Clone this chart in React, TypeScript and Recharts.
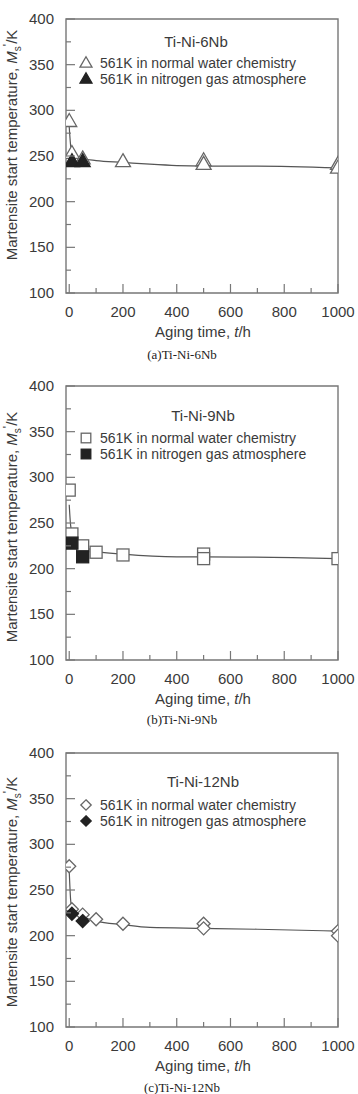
import React from "react";
import { ComposedChart, XAxis, YAxis, Line, Scatter, ReferenceArea } from "recharts";

// Ms temperature vs aging time at 561K, three Ti-Ni-Nb alloys

const X_TICKS = [0, 100, 200, 300, 400, 500, 600, 700, 800, 900, 1000];
const Y_TICKS = [100, 125, 150, 175, 200, 225, 250, 275, 300, 325, 350, 375, 400];

// Ti-Ni-6Nb
const NB6_WATER_T = [0, 10, 50, 200, 500, 500, 1000, 1000];
const NB6_WATER_MS = [288, 253, 247, 244, 245, 241, 241, 237];
const NB6_N2_T = [10, 50];
const NB6_N2_MS = [244, 244];
const NB6_FIT_T = [0, 5, 10, 20, 50, 100, 200, 300, 400, 500, 700, 1000];
const NB6_FIT_MS = [282, 262, 253, 250, 247, 245, 243, 241, 239.5, 239, 239, 237];

// Ti-Ni-9Nb
const NB9_WATER_T = [0, 10, 50, 100, 200, 500, 500, 1000];
const NB9_WATER_MS = [286, 238, 225, 218, 215, 216, 211, 211];
const NB9_N2_T = [10, 50];
const NB9_N2_MS = [228, 213];
const NB9_FIT_T = [0, 5, 10, 20, 50, 100, 200, 400, 500, 1000];
const NB9_FIT_MS = [270, 248, 240, 233, 226, 219, 216, 213, 213, 211];

// Ti-Ni-12Nb
const NB12_WATER_T = [0, 10, 50, 100, 200, 500, 500, 1000, 1000];
const NB12_WATER_MS = [276, 229, 223, 218, 213, 213, 208, 205, 200];
const NB12_N2_T = [10, 50];
const NB12_N2_MS = [224, 216];
const NB12_FIT_T = [0, 5, 10, 20, 50, 100, 200, 300, 500, 700, 1000];
const NB12_FIT_MS = [271, 240, 230, 226, 221, 216, 212, 209, 208, 207, 205];

const LEGEND_WATER = "561K in normal water chemistry";
const LEGEND_N2 = "561K in nitrogen gas atmosphere";

type MarkerKind = "triangle" | "square" | "diamond";

const pts = (t: number[], ms: number[]) => t.map((x, i) => ({ x, y: ms[i] }));

const PANELS = [
  {
    name: "Ti-Ni-6Nb", caption: "(a)Ti-Ni-6Nb", marker: "triangle" as MarkerKind,
    water: pts(NB6_WATER_T, NB6_WATER_MS), n2: pts(NB6_N2_T, NB6_N2_MS), fit: pts(NB6_FIT_T, NB6_FIT_MS),
    titleX: 196, titleY: 47, rows: [63, 79], yTitleMid: 145, captionY: 359,
  },
  {
    name: "Ti-Ni-9Nb", caption: "(b)Ti-Ni-9Nb", marker: "square" as MarkerKind,
    water: pts(NB9_WATER_T, NB9_WATER_MS), n2: pts(NB9_N2_T, NB9_N2_MS), fit: pts(NB9_FIT_T, NB9_FIT_MS),
    titleX: 203, titleY: 54, rows: [71, 87], yTitleMid: 160, captionY: 357,
  },
  {
    name: "Ti-Ni-12Nb", caption: "(c)Ti-Ni-12Nb", marker: "diamond" as MarkerKind,
    water: pts(NB12_WATER_T, NB12_WATER_MS), n2: pts(NB12_N2_T, NB12_N2_MS), fit: pts(NB12_FIT_T, NB12_FIT_MS),
    titleX: 203, titleY: 53, rows: [71, 87], yTitleMid: 158, captionY: 358,
  },
];

const W = 358;
const H = 367;
const PLOT_LEFT = 66;
const PLOT_TOP = 19;
const PLOT_BOTTOM = 293;
const FONT = "'Liberation Sans', Arial, sans-serif";
const FS = 15;
const LEGEND_FS = 14;
const TEXT = "#3a3a3a";
const AXIS = "#777";

function Marker({ kind, cx, cy, filled, size = 1 }: { kind: MarkerKind; cx: number; cy: number; filled: boolean; size?: number }) {
  const fill = filled ? "#222" : "#fff";
  const stroke = filled ? "#222" : "#666";
  if (kind === "triangle") {
    const hw = 7.5 * size, h = 13 * size;
    const p = `${cx},${cy - h * 0.6} ${cx + hw},${cy + h * 0.4} ${cx - hw},${cy + h * 0.4}`;
    return <polygon points={p} fill={fill} stroke={stroke} strokeWidth={1.3} />;
  }
  if (kind === "square") {
    const s = 6 * size;
    return <rect x={cx - s} y={cy - s} width={s * 2} height={s * 2} fill={fill} stroke={stroke} strokeWidth={1.3} />;
  }
  const d = 6.5 * size;
  const p = `${cx},${cy - d} ${cx + d},${cy} ${cx},${cy + d} ${cx - d},${cy}`;
  return <polygon points={p} fill={fill} stroke={stroke} strokeWidth={1.3} />;
}

function XTick(props: any) {
  const { x, payload } = props;
  const v = payload.value as number;
  const major = v % 200 === 0;
  return (
    <g>
      <line x1={x} x2={x} y1={PLOT_BOTTOM} y2={PLOT_BOTTOM - (major ? 9 : 5)} stroke={AXIS} strokeWidth={1.2} />
      {major && (
        <text x={x} y={PLOT_BOTTOM + 24} textAnchor="middle" fontSize={FS} fontFamily={FONT} fill={TEXT}>
          {v}
        </text>
      )}
    </g>
  );
}

function YTick(props: any) {
  const { y, payload } = props;
  const v = payload.value as number;
  const major = v % 50 === 0;
  return (
    <g>
      <line x1={PLOT_LEFT} x2={PLOT_LEFT + (major ? 9 : 5)} y1={y} y2={y} stroke={AXIS} strokeWidth={1.2} />
      {major && (
        <text x={54} y={y + 5} textAnchor="end" fontSize={FS} fontFamily={FONT} fill={TEXT}>
          {v}
        </text>
      )}
    </g>
  );
}

function Panel({ panel, top }: { panel: (typeof PANELS)[number]; top: number }) {
  const kind = panel.marker;
  return (
    <div style={{ position: "absolute", left: 0, top, width: W, height: H }}>
      <ComposedChart width={W} height={H} margin={{ top: PLOT_TOP, right: 20, bottom: 44, left: 0 }}>
        <XAxis
          type="number"
          dataKey="x"
          domain={[-12, 1000]}
          ticks={X_TICKS}
          interval={0}
          tick={<XTick />}
          tickLine={false}
          axisLine={false}
          height={30}
          allowDataOverflow
        />
        <YAxis
          type="number"
          dataKey="y"
          domain={[100, 400]}
          ticks={Y_TICKS}
          interval={0}
          tick={<YTick />}
          tickLine={false}
          axisLine={false}
          width={66}
          allowDataOverflow
        />
        <ReferenceArea x1={-12} x2={1000} y1={100} y2={400} fill="none" stroke={AXIS} strokeWidth={1.4} />
        <Line
          data={panel.fit}
          dataKey="y"
          type="monotone"
          stroke="#555"
          strokeWidth={1.2}
          dot={false}
          activeDot={false}
          isAnimationActive={false}
        />
        <Scatter
          data={panel.water}
          isAnimationActive={false}
          shape={(p: any) => <Marker kind={kind} cx={p.cx} cy={p.cy} filled={false} />}
        />
        <Scatter
          data={panel.n2}
          isAnimationActive={false}
          shape={(p: any) => <Marker kind={kind} cx={p.cx} cy={p.cy} filled />}
        />
      </ComposedChart>
      <svg width={W} height={H} style={{ position: "absolute", left: 0, top: 0, pointerEvents: "none" }}>
        <text x={panel.titleX} y={panel.titleY} textAnchor="middle" fontSize={FS} fontFamily={FONT} fill={TEXT}>
          {panel.name}
        </text>
        <Marker kind={kind} cx={86} cy={panel.rows[0]} filled={false} size={0.8} />
        <text x={100} y={panel.rows[0] + 5} fontSize={LEGEND_FS} fontFamily={FONT} fill={TEXT}>
          {LEGEND_WATER}
        </text>
        <Marker kind={kind} cx={86} cy={panel.rows[1]} filled size={0.8} />
        <text x={100} y={panel.rows[1] + 5} fontSize={LEGEND_FS} fontFamily={FONT} fill={TEXT}>
          {LEGEND_N2}
        </text>
        <text
          transform={`translate(17, ${panel.yTitleMid}) rotate(-90)`}
          textAnchor="middle"
          fontSize={FS}
          fontFamily={FONT}
          fill={TEXT}
        >
          Martensite start temperature,{" "}
          <tspan fontStyle="italic">M</tspan>
          <tspan fontSize={10} dy={4}>s</tspan>
          <tspan fontSize={12} dy={-9}>'</tspan>
          <tspan dy={5}>/K</tspan>
        </text>
        <text x={203} y={337} textAnchor="middle" fontSize={FS} fontFamily={FONT} fill={TEXT}>
          Aging time, <tspan fontStyle="italic">t</tspan>/h
        </text>
        <text x={182} y={panel.captionY} textAnchor="middle" fontSize={13} fontFamily="'Liberation Serif', 'Times New Roman', serif" fill="#222">
          {panel.caption}
        </text>
      </svg>
    </div>
  );
}

export default function App() {
  return (
    <div style={{ position: "absolute", left: 0, top: 0, width: W, height: 1094, background: "#fff", overflow: "hidden" }}>
      {PANELS.map((p, i) => (
        <Panel key={p.name} panel={p} top={i * H} />
      ))}
    </div>
  );
}
